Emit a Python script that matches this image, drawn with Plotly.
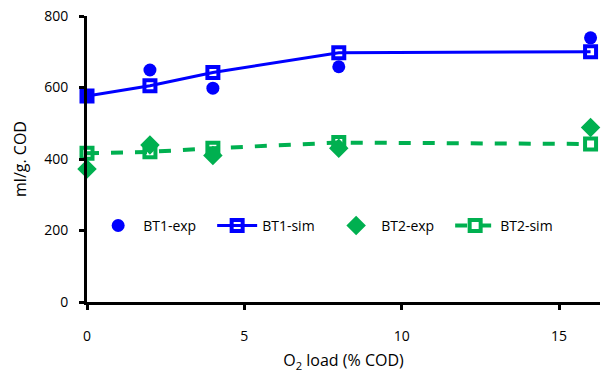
import plotly.graph_objects as go

bt1_exp_x = [0, 2, 4, 8, 16]
bt1_exp_y = [576, 649, 598, 658, 739]
bt1_sim_x = [0, 2, 4, 8, 16]
bt1_sim_y = [576, 605, 642, 697, 700]
bt2_exp_x = [0, 2, 4, 8, 16]
bt2_exp_y = [372, 439, 410, 430, 488]
bt2_sim_x = [0, 2, 4, 8, 16]
bt2_sim_y = [416, 420, 430, 446, 442]

BLUE = "#0000FF"
GREEN = "#00B050"
FONT = "Open Sans"

fig = go.Figure()
fig.add_trace(go.Scatter(x=bt1_exp_x, y=bt1_exp_y, mode="markers", name="BT1-exp",
                         marker=dict(symbol="circle", size=13, color=BLUE), cliponaxis=False))
fig.add_trace(go.Scatter(x=bt1_sim_x, y=bt1_sim_y, mode="lines+markers", name="BT1-sim",
                         line=dict(color=BLUE, width=3),
                         marker=dict(symbol="square-open", size=11, color=BLUE, line=dict(width=4, color=BLUE)),
                         cliponaxis=False))
fig.add_trace(go.Scatter(x=bt2_exp_x, y=bt2_exp_y, mode="markers", name="BT2-exp",
                         marker=dict(symbol="diamond", size=15, color=GREEN), cliponaxis=False))
fig.add_trace(go.Scatter(x=bt2_sim_x, y=bt2_sim_y, mode="lines+markers", name="BT2-sim",
                         line=dict(color=GREEN, width=4, dash="dash"),
                         marker=dict(symbol="square-open", size=11, color=GREEN, line=dict(width=4, color=GREEN)),
                         cliponaxis=False))

fig.update_layout(
    width=606, height=378,
    margin=dict(l=87, r=6, t=12, b=76),
    paper_bgcolor="white", plot_bgcolor="white",
    font=dict(family=FONT, size=14, color="black"),
    showlegend=True,
    legend=dict(orientation="h", x=0.012, y=0.266, xanchor="left", yanchor="middle",
                bgcolor="rgba(0,0,0,0)", font=dict(size=14), itemwidth=40,
                entrywidth=64, entrywidthmode="pixels"),
    xaxis=dict(range=[0, 16.3], tickvals=[0, 5, 10, 15], showgrid=False, zeroline=False,
               showline=True, linecolor="black", linewidth=3,
               ticks="outside", ticklen=5, tickwidth=3, tickcolor="black",
               ticklabelstandoff=14, tickfont=dict(size=14),
               title=dict(text="O<sub>2</sub> load (% COD)", font=dict(size=16), standoff=12)),
    yaxis=dict(range=[0, 800], tickvals=[0, 200, 400, 600, 800], showgrid=False, zeroline=False,
               showline=True, linecolor="black", linewidth=3,
               ticks="outside", ticklen=5, tickwidth=3, tickcolor="black",
               ticklabelstandoff=8, tickfont=dict(size=14),
               title=dict(text="ml/g. COD", font=dict(size=16), standoff=14)),
)

fig.write_html("out.html")
